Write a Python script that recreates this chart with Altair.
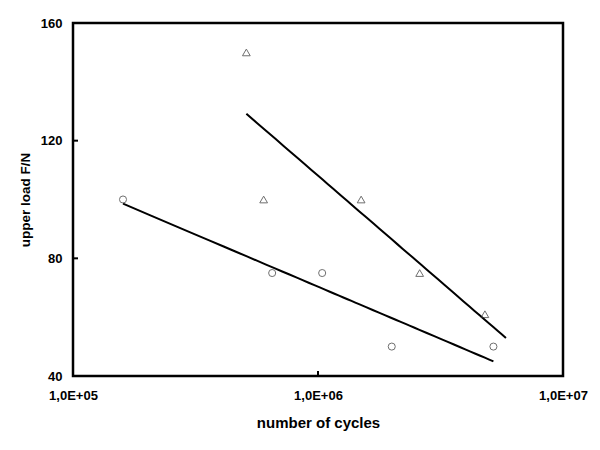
import altair as alt
import pandas as pd

# data
circle_cycles = [1.6e5, 6.5e5, 1.04e6, 2.0e6, 5.2e6]
circle_load = [100, 75, 75, 50, 50]
tri_cycles = [5.1e5, 6.0e5, 1.5e6, 2.6e6, 4.8e6]
tri_load = [150, 100, 100, 75, 61]
circle_line_extent = [1.6e5, 5.2e6]
tri_line_extent = [5.1e5, 5.85e6]
x_ticks = [1e5, 1e6, 1e7]
y_ticks = [40, 80, 120, 160]
inner_x_ticks = [1e6]
inner_y_ticks = [80, 120]

circ = pd.DataFrame({"cycles": circle_cycles, "load": circle_load})
tri = pd.DataFrame({"cycles": tri_cycles, "load": tri_load})

FONT = "Liberation Sans"

xscale = alt.Scale(type="log", domain=[1e5, 1e7], nice=False)
yscale = alt.Scale(domain=[40, 160], nice=False, zero=False)

xlabel_expr = ("datum.value == 100000 ? '1,0E+05' : datum.value == 1000000 ? '1,0E+06' : '1,0E+07'")

xaxis = alt.Axis(values=x_ticks, labelExpr=xlabel_expr, ticks=False, grid=False,
                 domain=False, labelFont=FONT, labelFontSize=13, labelFontWeight="bold",
                 labelColor="black", labelPadding=13, title="number of cycles",
                 titleFont=FONT, titleFontSize=15, titleFontWeight="bold",
                 titleColor="black", titlePadding=13, labelFlush=False)
yaxis = alt.Axis(values=y_ticks, ticks=False, grid=False, domain=False,
                 labelFont=FONT, labelFontSize=13, labelFontWeight="bold",
                 labelColor="black", labelPadding=11, title="upper load F/N",
                 titleFont=FONT, titleFontSize=13.5, titleFontWeight="bold",
                 titleColor="black", titlePadding=8, labelFlush=False)

base_c = alt.Chart(circ)
base_t = alt.Chart(tri)

pts_c = base_c.mark_point(shape="circle", filled=False, size=50, color="#333333",
                          strokeWidth=1).encode(
    x=alt.X("cycles:Q", scale=xscale, axis=xaxis),
    y=alt.Y("load:Q", scale=yscale, axis=yaxis))
pts_t = base_t.mark_point(shape="triangle-up", filled=False, size=60, color="#333333",
                          strokeWidth=1).encode(
    x=alt.X("cycles:Q", scale=xscale),
    y=alt.Y("load:Q", scale=yscale))

line_c = base_c.transform_regression("cycles", "load", method="log",
                                     extent=circle_line_extent).mark_line(
    color="black", strokeWidth=2).encode(
    x=alt.X("cycles:Q", scale=xscale), y=alt.Y("load:Q", scale=yscale))
line_t = base_t.transform_regression("cycles", "load", method="log",
                                     extent=tri_line_extent).mark_line(
    color="black", strokeWidth=2).encode(
    x=alt.X("cycles:Q", scale=xscale), y=alt.Y("load:Q", scale=yscale))

yt = alt.Chart(pd.DataFrame({"v": inner_y_ticks})).mark_rule(
    color="black", strokeWidth=2).encode(
    y=alt.Y("v:Q", scale=yscale), x=alt.value(0), x2=alt.value(5))
xt = alt.Chart(pd.DataFrame({"v": inner_x_ticks})).mark_rule(
    color="black", strokeWidth=2).encode(
    x=alt.X("v:Q", scale=xscale), y=alt.value(353), y2=alt.value(348))

chart = alt.layer(line_c, line_t, pts_c, pts_t, yt, xt).properties(
    width=490, height=353,
    background="white",
    autosize=alt.AutoSizeParams(type="none"),
    padding={"left": 65, "top": 15, "right": 27, "bottom": 64},
).configure_view(stroke="black", strokeWidth=2.5)

chart.save("out.html", embed_options={"renderer": "svg", "actions": False})
